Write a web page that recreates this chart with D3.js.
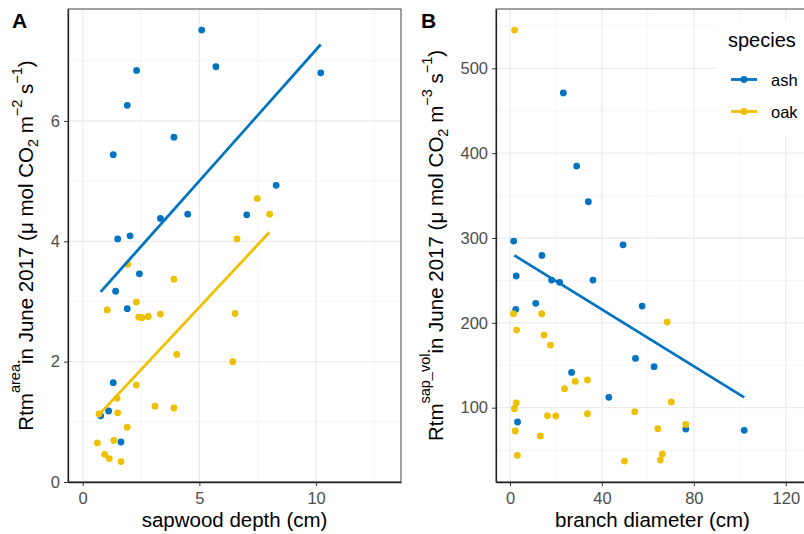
<!DOCTYPE html>
<meta charset="utf-8">
<style>
body { margin: 0; background: #fff; }
svg { font-family: "Liberation Sans", Arial, sans-serif; }
.tick text { fill: #4d4d4d; font-size: 16.5px; }
.tick line { stroke: #333; }
.title { font-size: 20.5px; fill: #000; }
</style>
<body>
<script src="https://d3js.org/d3.v7.min.js"></script>
<script>
// panel A: sapwood depth vs Rtm area
var ashDepth = [5.10, 5.71, 2.31, 10.2, 1.91, 3.91, 1.31, 8.29, 7.03, 4.50, 3.33, 2.03, 1.50, 2.43, 1.41, 1.91, 1.31, 1.11, 0.77, 1.64];
var ashArea  = [7.51, 6.90, 6.84, 6.80, 6.26, 5.73, 5.44, 4.93, 4.44, 4.45, 4.38, 4.09, 4.04, 3.46, 3.17, 2.88, 1.65, 1.18, 1.10, 0.665];
var oakDepth = [7.48, 8.01, 6.61, 1.93, 3.91, 2.30, 1.05, 2.40, 2.54, 2.81, 3.33, 6.53, 4.03, 6.43, 2.30, 1.47, 3.10, 3.91, 1.50, 0.70, 1.91, 0.63, 1.33, 0.94, 1.14, 1.64];
var oakArea  = [4.71, 4.45, 4.04, 3.62, 3.37, 2.99, 2.86, 2.74, 2.73, 2.75, 2.79, 2.80, 2.12, 2.00, 1.61, 1.39, 1.26, 1.23, 1.15, 1.13, 0.91, 0.65, 0.69, 0.46, 0.39, 0.34];
var fitAshA = [[0.77, 3.16], [10.2, 7.27]];
var fitOakA = [[0.70, 1.12], [8.0, 4.15]];

// panel B: branch diameter vs Rtm sap_vol
var ashDiam = [23.2, 29.0, 34.1, 1.6, 49.2, 13.9, 2.7, 18.1, 21.6, 36.1, 57.5, 11.2, 2.5, 54.6, 62.7, 26.8, 43.0, 3.3, 76.5, 101.9];
var ashVol  = [471, 384.8, 342.7, 296.4, 292.0, 279.5, 255.2, 250.4, 247.7, 250.4, 219.8, 223.0, 215.9, 158.1, 148.3, 141.6, 112.2, 83.1, 74.8, 73.3];
var oakDiam = [2.0, 1.5, 13.8, 68.4, 2.9, 14.8, 17.6, 33.7, 28.4, 23.7, 70.2, 2.7, 1.9, 54.3, 33.7, 16.3, 19.9, 76.5, 64.3, 2.3, 13.2, 66.3, 3.2, 65.4, 49.8];
var oakVol  = [545.1, 210.7, 210.7, 200.9, 191.5, 185.6, 173.8, 132.6, 131.0, 122.4, 106.7, 105.5, 98.8, 95.3, 92.9, 90.6, 90.2, 80.3, 75.2, 72.5, 66.6, 45.4, 43.8, 38.3, 37.1];
var fitAshB = [[1.9, 279.5], [101.9, 112.2]];

var species = ["ash", "oak"];
var colors = {ash: "#0073C2", oak: "#EFC000"};

var ticksAx = [0, 5, 10], minorAx = [2.5, 7.5, 12.5];
var ticksAy = [0, 2, 4, 6], minorAy = [1, 3, 5, 7];
var ticksBx = [0, 40, 80, 120], minorBx = [20, 60, 100];
var ticksBy = [100, 200, 300, 400, 500], minorBy = [50, 150, 250, 350, 450, 550];

var svg = d3.select("body").append("svg")
    .attr("width", 804)
    .attr("height", 534);

function panel(opt) {
  var x = d3.scaleLinear().domain(opt.xd).range([opt.left, opt.right]);
  var y = d3.scaleLinear().domain(opt.yd).range([opt.bottom, opt.top]);
  var g = svg.append("g");

  // grid
  g.selectAll(".minx").data(opt.minorX).enter().append("line")
    .attr("x1", x).attr("x2", x).attr("y1", opt.top).attr("y2", opt.bottom)
    .attr("stroke", "#f2f2f2").attr("stroke-width", 0.8);
  g.selectAll(".miny").data(opt.minorY).enter().append("line")
    .attr("y1", y).attr("y2", y).attr("x1", opt.left).attr("x2", opt.right)
    .attr("stroke", "#f2f2f2").attr("stroke-width", 0.8);
  g.selectAll(".majx").data(opt.ticksX).enter().append("line")
    .attr("x1", x).attr("x2", x).attr("y1", opt.top).attr("y2", opt.bottom)
    .attr("stroke", "#ebebeb").attr("stroke-width", 1.3);
  g.selectAll(".majy").data(opt.ticksY).enter().append("line")
    .attr("y1", y).attr("y2", y).attr("x1", opt.left).attr("x2", opt.right)
    .attr("stroke", "#ebebeb").attr("stroke-width", 1.3);

  if (opt.legend) opt.legend(g);

  // points
  opt.series.forEach(function(s) {
    g.selectAll(null).data(d3.range(s.x.length)).enter().append("circle")
      .attr("cx", function(i) { return x(s.x[i]); })
      .attr("cy", function(i) { return y(s.y[i]); })
      .attr("r", 3.4)
      .attr("fill", colors[s.sp]);
  });
  // fitted lines
  var line = d3.line().x(function(d) { return x(d[0]); }).y(function(d) { return y(d[1]); });
  opt.fits.forEach(function(f) {
    g.append("path").attr("d", line(f.pts))
      .attr("fill", "none").attr("stroke", colors[f.sp]).attr("stroke-width", 2.8);
  });

  // border
  g.append("rect")
    .attr("x", opt.left).attr("y", opt.top)
    .attr("width", opt.right - opt.left).attr("height", opt.bottom - opt.top)
    .attr("fill", "none").attr("stroke", "#444").attr("stroke-width", 1);

  // axes
  var ax = g.append("g").attr("transform", "translate(0," + opt.bottom + ")")
    .call(d3.axisBottom(x).tickValues(opt.ticksX).tickSize(4).tickSizeOuter(0).tickPadding(6).tickFormat(d3.format("d")));
  ax.select(".domain").attr("stroke", "#222").attr("stroke-width", 1.3);
  var ay = g.append("g").attr("transform", "translate(" + opt.left + ",0)")
    .call(d3.axisLeft(y).tickValues(opt.ticksY).tickSize(4).tickSizeOuter(0).tickPadding(4).tickFormat(d3.format("d")));
  ay.select(".domain").attr("stroke", "#222").attr("stroke-width", 1.3);
  g.selectAll(".tick text").attr("font-family", null).attr("font-size", null);

  // x title
  g.append("text").attr("class", "title")
    .attr("x", (opt.left + opt.right) / 2).attr("y", 527)
    .attr("text-anchor", "middle").text(opt.xTitle);

  // y title with super/subscripts
  var t = g.append("text").attr("class", "title")
    .attr("transform", "translate(" + opt.yTitleX + "," + ((opt.top + opt.bottom) / 2) + ") rotate(-90)")
    .attr("text-anchor", "middle");
  t.append("tspan").text("Rtm");
  t.append("tspan").attr("dy", -13).attr("font-size", 14.5).text(opt.sup);
  t.append("tspan").attr("dy", 13).text("in June 2017 (\u03bc mol CO");
  t.append("tspan").attr("dy", 5).attr("font-size", 14.5).text("2");
  t.append("tspan").attr("dy", -5).text(" m");
  t.append("tspan").attr("dy", -11).attr("font-size", 14.5).text(opt.unit);
  t.append("tspan").attr("dy", 11).text(" s");
  t.append("tspan").attr("dy", -11).attr("font-size", 14.5).text("\u22121");
  t.append("tspan").attr("dy", 11).text(")");

  // panel letter
  svg.append("text").attr("x", opt.letterX).attr("y", 28)
    .attr("font-size", 21).attr("font-weight", "bold").text(opt.letter);
}

panel({
  left: 68, right: 401, top: 9, bottom: 482,
  xd: [-0.63, 13.64], yd: [0, 7.86],
  ticksX: ticksAx, minorX: minorAx, ticksY: ticksAy, minorY: minorAy,
  series: [{sp: "ash", x: ashDepth, y: ashArea}, {sp: "oak", x: oakDepth, y: oakArea}],
  fits: [{sp: "ash", pts: fitAshA}, {sp: "oak", pts: fitOakA}],
  xTitle: "sapwood depth (cm)",
  yTitleX: 33, sup: "area", unit: "\u22122",
  letter: "A", letterX: 12
});

panel({
  left: 496, right: 809, top: 9, bottom: 482,
  xd: [-6.09, 130.1], yd: [12.4, 569.9],
  ticksX: ticksBx, minorX: minorBx, ticksY: ticksBy, minorY: minorBy,
  series: [{sp: "ash", x: ashDiam, y: ashVol}, {sp: "oak", x: oakDiam, y: oakVol}],
  fits: [{sp: "ash", pts: fitAshB}],
  xTitle: "branch diameter (cm)",
  yTitleX: 443, sup: "sap_vol", unit: "\u22123",
  letter: "B", letterX: 421,
  legend: function(g) {
    g.append("rect").attr("x", 717).attr("y", 20).attr("width", 100).attr("height", 116)
      .attr("fill", "#fff");
    g.append("text").attr("x", 728).attr("y", 47).attr("font-size", 20).text("species");
    species.forEach(function(s, i) {
      var yy = 79.5 + i * 32;
      g.append("line").attr("x1", 731).attr("x2", 757).attr("y1", yy).attr("y2", yy)
        .attr("stroke", colors[s]).attr("stroke-width", 2.8);
      g.append("circle").attr("cx", 744).attr("cy", yy).attr("r", 3.4).attr("fill", colors[s]);
      g.append("text").attr("x", 771).attr("y", yy + 6.5).attr("font-size", 16.5).text(s);
    });
  }
});
</script>
</body>
